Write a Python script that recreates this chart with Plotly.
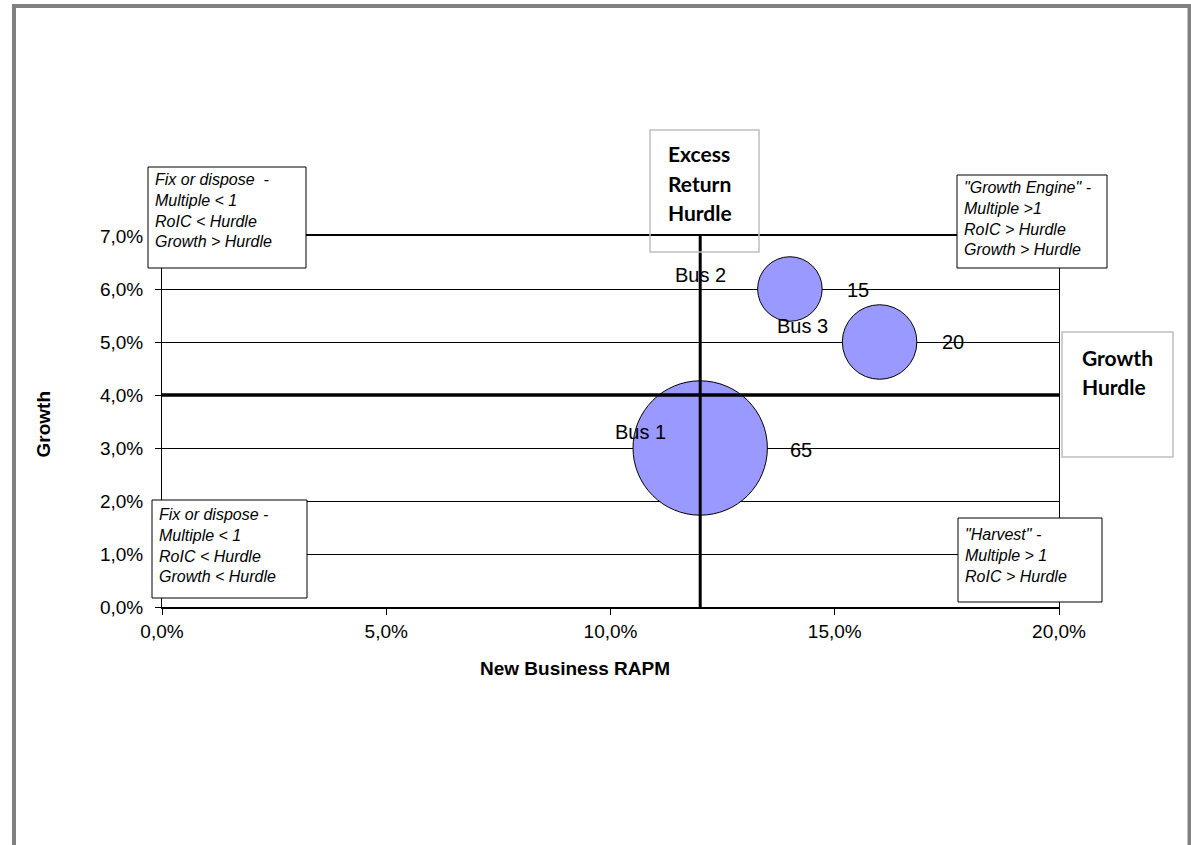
import plotly.graph_objects as go

# ---- data -------------------------------------------------------------
businesses = ["Bus 1", "Bus 2", "Bus 3"]
rapm = [0.12, 0.14, 0.16]          # New Business RAPM
growth = [0.03, 0.06, 0.05]        # Growth
capital = [65, 15, 20]             # bubble size / value label

return_hurdle = 0.12               # excess return hurdle (x)
growth_hurdle = 0.04               # growth hurdle (y)

x_ticks = [0.0, 0.05, 0.10, 0.15, 0.20]
y_ticks = [0.0, 0.01, 0.02, 0.03, 0.04, 0.05, 0.06, 0.07]

quadrant_texts = [
    "Fix or dispose &nbsp;-<br>Multiple &lt; 1<br>RoIC &lt; Hurdle<br>Growth &gt; Hurdle",
    "\"Growth Engine\" -<br>Multiple &gt;1<br>RoIC &gt; Hurdle<br>Growth &gt; Hurdle",
    "Fix or dispose -<br>Multiple &lt; 1<br>RoIC &lt; Hurdle<br>Growth &lt; Hurdle",
    "\"Harvest\" -<br>Multiple &gt; 1<br>RoIC &gt; Hurdle",
]
caption_lines = [
    ["Excess", "Return", "Hurdle"],
    ["Growth", "Hurdle"],
]

# ---- canvas geometry (pixels) -----------------------------------------
W, H = 1191, 845
PL, PR, PT, PB = 162, 1059, 236, 607   # plot area edges


def px(x):
    return (x - PL) / (PR - PL)


def py(y):
    return (PB - y) / (PB - PT)


ARIAL = "Liberation Sans, Arial, sans-serif"
CALIBRI = "Lato, Calibri, sans-serif"

fig = go.Figure()

# bubbles
fig.add_trace(go.Scatter(
    x=rapm, y=growth, mode="markers",
    marker=dict(size=capital, sizemode="area", sizeref=0.0072,
                color="#9999FF", opacity=1,
                line=dict(color="black", width=1)),
    cliponaxis=False, hoverinfo="skip",
))

# hurdle lines
fig.add_trace(go.Scatter(
    x=[return_hurdle, return_hurdle], y=[y_ticks[0], y_ticks[-1]],
    mode="lines", line=dict(color="black", width=3), hoverinfo="skip",
))
fig.add_trace(go.Scatter(
    x=[x_ticks[0], x_ticks[-1]], y=[growth_hurdle, growth_hurdle],
    mode="lines", line=dict(color="black", width=3.5), hoverinfo="skip",
))

annotations = []
shapes = []

# bubble labels: series name on the left, value on the right
name_shift = [(-60, 16), (-89, 14), (-77, 16)]
value_shift = [(101, -2), (68, -1), (73, 0)]
for i, name in enumerate(businesses):
    annotations.append(dict(
        x=rapm[i], y=growth[i], xref="x", yref="y", text=name,
        showarrow=False, xshift=name_shift[i][0], yshift=name_shift[i][1],
        font=dict(family=ARIAL, size=20, color="black")))
    annotations.append(dict(
        x=rapm[i], y=growth[i], xref="x", yref="y", text=str(capital[i]),
        showarrow=False, xshift=value_shift[i][0], yshift=value_shift[i][1],
        font=dict(family=ARIAL, size=20, color="black")))

# quadrant description boxes: (left, top, right, bottom, text-left, text-top)
quad_boxes = [
    (148, 167, 306, 268, 153, 169),
    (957, 175, 1107, 268, 962, 177),
    (152, 500, 307, 598, 157, 504),
    (958, 518, 1102, 602, 963, 524),
]
for (l, t, r, b, tx, ty), txt in zip(quad_boxes, quadrant_texts):
    shapes.append(dict(type="rect", xref="paper", yref="paper",
                       x0=px(l), x1=px(r), y0=py(b), y1=py(t),
                       line=dict(color="black", width=1),
                       fillcolor="white", layer="above"))
    annotations.append(dict(
        x=px(tx), y=py(ty), xref="paper", yref="paper",
        xanchor="left", yanchor="top", align="left", showarrow=False,
        text="<i>" + txt + "</i>",
        font=dict(family=ARIAL, size=16, color="black")))

# hurdle caption boxes: (left, top, right, bottom, text-left, first line centre)
cap_boxes = [
    (650, 130, 759, 252, 666, 154),
    (1062, 332, 1173, 457, 1080, 357),
]
for (l, t, r, b, tx, ty), lines in zip(cap_boxes, caption_lines):
    shapes.append(dict(type="rect", xref="paper", yref="paper",
                       x0=px(l), x1=px(r), y0=py(b), y1=py(t),
                       line=dict(color="#bfbfbf", width=1.5),
                       fillcolor="rgba(0,0,0,0)", layer="above"))
    for k, word in enumerate(lines):
        annotations.append(dict(
            x=px(tx), y=py(ty + 29.5 * k), xref="paper", yref="paper",
            xanchor="left", yanchor="middle", align="left", showarrow=False,
            text="<b>" + word + "</b>",
            font=dict(family=CALIBRI, size=21, color="black")))

# axis titles
annotations.append(dict(
    x=px(575), y=py(681), xref="paper", yref="paper", showarrow=False,
    text="<b>New Business RAPM</b>",
    font=dict(family=ARIAL, size=19, color="black")))
annotations.append(dict(
    x=px(30), y=py(424), xref="paper", yref="paper", showarrow=False,
    textangle=-90, text="<b>Growth</b>",
    font=dict(family=ARIAL, size=19, color="black")))

# outer chart border
shapes.append(dict(type="rect", xref="paper", yref="paper",
                   x0=px(14), x1=px(1189.5), y0=py(H + 20), y1=py(6),
                   line=dict(color="#808080", width=4),
                   fillcolor="rgba(0,0,0,0)", layer="above"))

fig.update_layout(
    width=W, height=H,
    margin=dict(l=PL, r=W - PR, t=PT, b=H - PB, pad=0),
    paper_bgcolor="white", plot_bgcolor="white",
    showlegend=False,
    separators=",.",
    shapes=shapes, annotations=annotations,
    xaxis=dict(range=[x_ticks[0], x_ticks[-1]], tickvals=x_ticks,
               tickformat=".1%", showgrid=False, zeroline=False,
               showline=True, mirror=True, linecolor="black", linewidth=1.5,
               ticks="outside", ticklen=6, tickcolor="black",
               tickfont=dict(family=ARIAL, size=19, color="black")),
    yaxis=dict(range=[y_ticks[0], y_ticks[-1]], tickvals=y_ticks,
               tickformat=".1%", showgrid=True, gridcolor="black",
               gridwidth=1, zeroline=False,
               showline=True, mirror=True, linecolor="black", linewidth=1,
               ticks="outside", ticklen=6, tickcolor="black",
               ticklabelstandoff=8,
               tickfont=dict(family=ARIAL, size=19, color="black")),
)

fig.write_html("out.html")
